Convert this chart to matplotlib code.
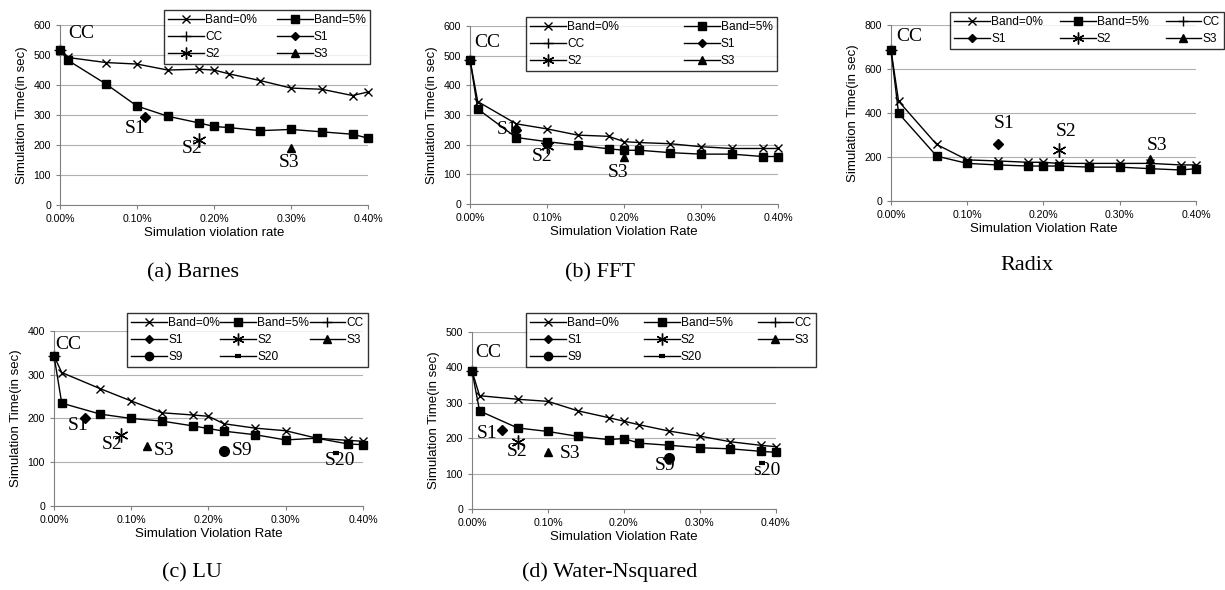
import numpy as np
import matplotlib
matplotlib.use('Agg')
import matplotlib.pyplot as plt
from matplotlib.ticker import FuncFormatter


# taxa de violacao (%) usada em todas as curvas
rates = [0.00, 0.01, 0.06, 0.10, 0.14, 0.18, 0.20, 0.22, 0.26, 0.30, 0.34, 0.38, 0.40]

# Barnes
barnes_band0 = [517, 492, 475, 470, 450, 453, 450, 437, 415, 390, 386, 365, 377]
barnes_band5 = [517, 483, 403, 330, 296, 274, 262, 258, 248, 252, 244, 236, 223]
barnes_cc = (0.00, 517)
barnes_pts = {'S1': (0.11, 292), 'S2': (0.18, 217), 'S3': (0.30, 190)}

# FFT
fft_band0 = [485, 345, 270, 253, 232, 228, 210, 207, 203, 193, 187, 187, 187]
fft_band5 = [485, 320, 224, 210, 198, 186, 181, 181, 173, 168, 168, 160, 160]
fft_cc = (0.00, 485)
fft_pts = {'S1': (0.06, 250), 'S2': (0.10, 195), 'S3': (0.20, 158)}

# Radix
radix_band0 = [690, 455, 258, 188, 183, 177, 177, 172, 172, 172, 172, 165, 165]
radix_band5 = [690, 400, 205, 172, 165, 160, 160, 160, 155, 155, 148, 142, 148]
radix_cc = (0.00, 690)
radix_pts = {'S1': (0.14, 258), 'S2': (0.22, 233), 'S3': (0.34, 190)}

# LU
lu_band0 = [343, 305, 268, 240, 213, 208, 205, 188, 178, 172, 155, 150, 148]
lu_band5 = [343, 235, 210, 200, 194, 183, 177, 171, 163, 151, 155, 142, 140]
lu_cc = (0.00, 343)
lu_pts = {'S1': (0.04, 200), 'S2': (0.087, 162), 'S3': (0.12, 138),
          'S9': (0.22, 125), 'S20': (0.365, 120)}

# Water-Nsquared
water_band0 = [390, 320, 310, 304, 277, 258, 248, 238, 220, 206, 190, 180, 176]
water_band5 = [390, 277, 229, 219, 205, 196, 199, 186, 180, 173, 170, 163, 160]
water_cc = (0.00, 390)
water_pts = {'S1': (0.04, 222), 'S2': (0.06, 190), 'S3': (0.10, 162),
             'S9': (0.26, 143), 'S20': (0.382, 130)}


SANS = 'Liberation Sans'
SERIF = 'Liberation Serif'
plt.rcParams['font.family'] = SANS

markers = {'S1': 'D', 'S2': (6, 2, 0), 'S3': '^', 'S9': 'o', 'S20': '_'}
msizes = {'S1': 5, 'S2': 10, 'S3': 6, 'S9': 7, 'S20': 5}


def por_linha(itens, ncol):
    # legenda do matplotlib preenche por coluna; reordena para ler por linha
    return [itens[i] for c in range(ncol) for i in range(c, len(itens), ncol)]


def painel(fig, rect, band0, band5, cc, pts, ymax, ystep, xlabel, caption, cap_xy,
           leg_box, ncol, labels_pos):
    ax = fig.add_axes(rect)
    ax.plot([cc[0]], [cc[1]], color='black', lw=1, marker='+', ms=8, mew=1, label='CC',
            clip_on=False, zorder=2)
    ax.plot(rates, band0, color='black', lw=1, marker='x', ms=6, mew=1, label='Band=0%',
            clip_on=False, zorder=3)
    ax.plot(rates, band5, color='black', lw=1, marker='s', ms=6, label='Band=5%',
            clip_on=False, zorder=4)
    for k, (x, y) in pts.items():
        mew = 3 if k == 'S20' else 1
        ax.plot([x], [y], color='black', lw=1, marker=markers[k], ms=msizes[k], mew=mew, label=k)

    # rotulos dos pontos
    ax.text(labels_pos['CC'][0], labels_pos['CC'][1], 'CC', family=SERIF, fontsize=14,
            ha='center', va='center')
    for k in pts:
        t = 's20' if (k == 'S20' and caption.startswith('(d)')) else k
        ax.text(labels_pos[k][0], labels_pos[k][1], t, family=SERIF, fontsize=14,
                ha='center', va='center')

    ax.set_xlim(0, 0.40)
    ax.set_ylim(0, ymax)
    ax.set_xticks([0, 0.1, 0.2, 0.3, 0.4])
    ax.set_yticks(np.arange(0, ymax + 1, ystep))
    ax.xaxis.set_major_formatter(FuncFormatter(lambda v, p: '%.2f%%' % v))
    ax.tick_params(labelsize=7.6, length=3, color='#808080', width=0.8)
    ax.grid(axis='y', color='#b0b0b0', lw=0.8)
    ax.set_axisbelow(True)
    for s in ['top', 'right']:
        ax.spines[s].set_visible(False)
    for s in ['left', 'bottom']:
        ax.spines[s].set_color('#808080')
    ax.set_xlabel(xlabel, fontsize=9.5, labelpad=2)
    ax.set_ylabel('Simulation Time(in sec)', fontsize=9.5, labelpad=4)

    h, l = ax.get_legend_handles_labels()
    ordem = ['Band=0%', 'Band=5%', 'CC'] + list(pts.keys())
    h = [h[l.index(n)] for n in ordem]
    leg = ax.legend(por_linha(h, ncol), por_linha(ordem, ncol), loc='upper left',
                    bbox_to_anchor=leg_box, bbox_transform=fig.transFigure,
                    mode='expand', ncol=ncol, fontsize=8.6, frameon=True, fancybox=False,
                    edgecolor='black', borderaxespad=0, handlelength=3.0, handletextpad=0.1,
                    labelspacing=0.4, columnspacing=0.3, borderpad=0.35, markerscale=0.85)
    leg.get_frame().set_linewidth(1.0)
    leg.set_zorder(10)

    fig.text(cap_xy[0] / 1225, 1 - cap_xy[1] / 590, caption, family=SERIF, fontsize=16,
             ha='center', va='center')
    return ax


fig = plt.figure(figsize=(12.25, 5.9), dpi=100)

painel(fig, [0.049, 0.6525, 0.2514, 0.305], barnes_band0, barnes_band5, barnes_cc, barnes_pts,
       600, 100, 'Simulation violation rate', '(a) Barnes', (193, 273),
       (0.1339, 0.9051, 0.168, 0.078), 2,
       {'CC': (0.027, 572), 'S1': (0.098, 256), 'S2': (0.172, 189), 'S3': (0.297, 141)})

painel(fig, [0.3837, 0.6542, 0.2514, 0.302], fft_band0, fft_band5, fft_cc, fft_pts,
       600, 100, 'Simulation Violation Rate', '(b) FFT', (600, 273),
       (0.4294, 0.8949, 0.2049, 0.0763), 2,
       {'CC': (0.022, 543), 'S1': (0.048, 251), 'S2': (0.094, 161), 'S3': (0.192, 105)})

painel(fig, [0.7273, 0.659, 0.249, 0.298], radix_band0, radix_band5, radix_cc, radix_pts,
       800, 200, 'Simulation Violation Rate', 'Radix', (1027, 265),
       (0.7755, 0.9119, 0.2237, 0.0678), 3,
       {'CC': (0.024, 750), 'S1': (0.148, 352), 'S2': (0.230, 317), 'S3': (0.349, 253)})

painel(fig, [0.0441, 0.1424, 0.2522, 0.2966], lu_band0, lu_band5, lu_cc, lu_pts,
       400, 100, 'Simulation Violation Rate', '(c) LU', (192, 573),
       (0.1037, 0.3966, 0.1967, 0.0729), 3,
       {'CC': (0.019, 370), 'S1': (0.0315, 185), 'S2': (0.0756, 141), 'S3': (0.1425, 126),
        'S9': (0.243, 127), 'S20': (0.370, 105)})

painel(fig, [0.3853, 0.1373, 0.248, 0.30], water_band0, water_band5, water_cc, water_pts,
       500, 100, 'Simulation Violation Rate', '(d) Water-Nsquared', (610, 572),
       (0.4294, 0.3966, 0.2367, 0.0729), 3,
       {'CC': (0.021, 441), 'S1': (0.0198, 212), 'S2': (0.0593, 162), 'S3': (0.1295, 156),
        'S9': (0.2537, 123), 'S20': (0.3876, 108)})

plt.savefig('out.png', dpi=100)
